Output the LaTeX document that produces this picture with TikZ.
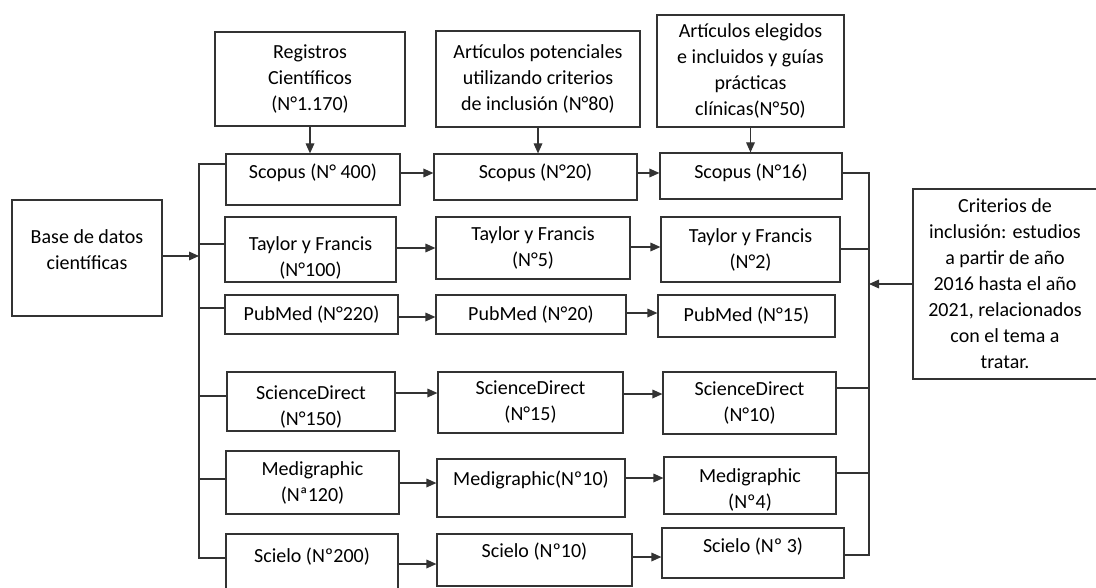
\documentclass[tikz,border=0pt]{standalone}
\usepackage{fontspec}
\setmainfont{Carlito}
\usetikzlibrary{arrows.meta}

\begin{document}
\begin{tikzpicture}[x=0.75pt,y=-0.75pt,>={Triangle[length=7.5pt,width=6.5pt]},
  font=\fontsize{15}{19.5}\selectfont,
  box/.style={draw=black!80,line width=0.9pt,align=center,inner sep=2pt},
  sz/.style 2 args={minimum width=#1*0.75pt,minimum height=#2*0.75pt},
  lift/.style={text depth=#1},
  drop/.style={text height=#1},
  link/.style={draw=black!80,line width=0.9pt}]
  \useasboundingbox (0,0) rectangle (1096,588);
  %
  % Top boxes
  \node[box,sz={190}{94}] (reg) at (310,79) {Registros\\Científicos\\(N°1.170)};
  \node[box,sz={204}{96}] (pot) at (538,79) {Artículos potenciales\\utilizando criterios\\de inclusión (N°80)};
  \node[box,sz={187}{112}] (ele) at (750.5,71) {Artículos elegidos\\e incluidos y guías\\prácticas\\clínicas(N°50)};
  %
  % Side boxes
  \node[box,sz={150}{116},lift=12pt] (base) at (87,258) {Base de datos\\científicas};
  \node[box,sz={184}{190}] (crit) at (1005,284) {Criterios de\\inclusión: estudios\\a partir de año\\2016 hasta el año\\2021, relacionados\\con el tema a\\tratar.};
  %
  % Column 1
  \node[box,sz={174}{51},lift=12.75pt] (s1) at (313,179.5) {Scopus (N° 400)};
  \node[box,sz={171}{65},drop=42.5pt] (t1) at (310.5,249.5) {Taylor y Francis\\(N°100)};
  \node[box,sz={173}{39}] (p1) at (311.5,314.5) {PubMed (N°220)};
  \node[box,sz={168}{59},drop=38pt] (d1) at (311,401.5) {ScienceDirect\\(N°150)};
  \node[box,sz={173}{63}] (m1) at (312.5,482.5) {Medigraphic\\(Nª120)};
  \node[box,sz={172}{60},lift=13.5pt] (sc1) at (312,564) {Scielo (Nº200)};
  %
  % Column 2
  \node[box,sz={203}{46},lift=9pt] (s2) at (535.5,177) {Scopus (N°20)};
  \node[box,sz={194}{62}] (t2) at (533,248) {Taylor y Francis\\(N°5)};
  \node[box,sz={190}{39}] (p2) at (531,314.5) {PubMed (N°20)};
  \node[box,sz={185}{61}] (d2) at (530.5,402.5) {ScienceDirect\\(N°15)};
  \node[box,sz={188}{58},lift=15pt] (m2) at (531,488) {Medigraphic(Nº10)};
  \node[box,sz={195}{52},lift=15pt] (sc2) at (534.5,560) {Scielo (Nº10)};
  %
  % Column 3
  \node[box,sz={182}{46},lift=7.5pt] (s3) at (751,176) {Scopus (N°16)};
  \node[box,sz={179}{65}] (t3) at (750.5,249.5) {Taylor y Francis\\(N°2)};
  \node[box,sz={177}{42}] (p3) at (746.5,316) {PubMed (N°15)};
  \node[box,sz={173}{62}] (d3) at (749.5,403) {ScienceDirect\\(N°10)};
  \node[box,sz={172}{57},drop=36.5pt] (m3) at (750,485.5) {Medigraphic\\(Nº4)};
  \node[box,sz={182}{50},lift=12pt] (sc3) at (753,553) {Scielo (Nº 3)};
  %
  % Arrows from the top boxes
  \draw[link,->] (reg.south) -- (reg.south |- s1.north);
  \draw[link,->] (pot.south) -- (pot.south |- s2.north);
  \draw[link,->] (ele.south) -- (ele.south |- s3.north);
  %
  % Left bus
  \coordinate (lb) at (199,164);
  \draw[link] (s1.west |- 0,164) -- (lb) -- (lb |- 0,558) -- (sc1.west |- 0,558);
  \foreach \n/\y in {t1/244,p1/308,d1/396,m1/479}
    \draw[link] (lb |- 0,\y) -- (\n.west |- 0,\y);
  \draw[link,->] (base.east |- 0,256) -- (lb |- 0,256);
  %
  % Right bus
  \coordinate (rb) at (869,173);
  \draw[link] (s3.east |- 0,173) -- (rb) -- (rb |- 0,555) -- (sc3.east |- 0,555);
  \foreach \n/\y in {t3/249,d3/388,m3/473}
    \draw[link] (\n.east |- 0,\y) -- (rb |- 0,\y);
  \draw[link,->] (crit.west) -- (rb |- crit.west);
  %
  % Row arrows
  \foreach \a/\b/\y in {s1/s2/173,t1/t2/248,p1/p2/317,d1/d2/393,m1/m2/483,sc1/sc2/564,
    s2/s3/173,t2/t3/247,p2/p3/313,d2/d3/394,m2/m3/478,sc2/sc3/557}
    \draw[link,->] (\a.east |- 0,\y) -- (\b.west |- 0,\y);
\end{tikzpicture}
\end{document}
